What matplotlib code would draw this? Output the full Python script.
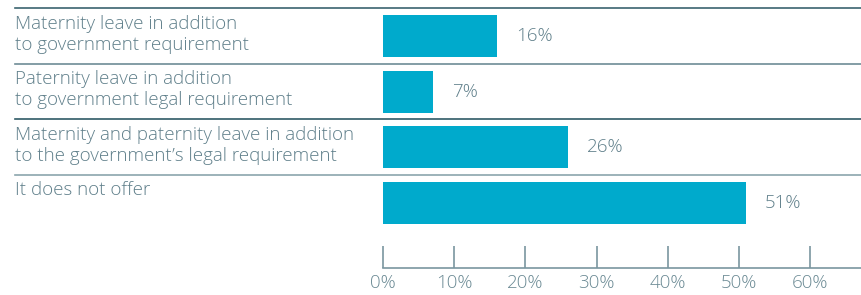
import matplotlib
matplotlib.use("Agg")
import matplotlib.pyplot as plt
import matplotlib.transforms as mtransforms

labels = ["Maternity leave in addition\nto government requirement",
          "Paternity leave in addition\nto government legal requirement",
          "Maternity and paternity leave in addition\nto the government\u2019s legal requirement",
          "It does not offer"]
values = [16, 7, 26, 51]
ticks = [0, 10, 20, 30, 40, 50, 60]
tick_labels = ["0%", "10%", "20%", "30%", "40%", "50%", "60%"]

bar_color = "#00aacc"
text_color = "#5f7f8a"
sep_colors = ["#3b6470", "#6e8c96", "#2f5a66", "#8ba5ad"]

plt.rcParams['font.family'] = ['Open Sans', 'DejaVu Sans']
plt.rcParams['font.weight'] = 'light'

W, H = 861, 295
fig = plt.figure(figsize=(W / 100, H / 100), dpi=100)
# axes from x=383px to right edge, y=0 to 268px (axis line)
ax = fig.add_axes([383 / W, (H - 268) / H, (W - 383) / W, 268 / H])

pos = list(range(len(values)))
ax.barh(pos, values, height=0.757, color=bar_color)
ax.set_xlim(0, (W - 383) / 71.2 * 10)
ax.set_ylim(4.18, -0.649)

for p, v in zip(pos, values):
    ax.annotate(f"{v}%", (v, p), xytext=(19, 0), textcoords="offset pixels",
                va="center", ha="left", fontsize=13.5, color=text_color)

# separator lines and category labels on the left
trans = mtransforms.blended_transform_factory(fig.transFigure, ax.transData)
for p, lab, c in zip(pos, labels, sep_colors):
    ax.plot([15 / W, 1], [p - 0.5, p - 0.5], transform=trans, color=c,
            lw=1.2, clip_on=False)
    ax.text(15 / W, p - 0.5 + 0.12, lab, transform=trans, va="top", ha="left",
            fontsize=13.5, color=text_color, linespacing=1.2)

for s in ["top", "right", "left"]:
    ax.spines[s].set_visible(False)
ax.spines["bottom"].set_color("#7a96a0")
ax.spines["bottom"].set_linewidth(1.2)
ax.set_yticks([])
ax.set_xticks(ticks)
ax.set_xticklabels(tick_labels)
ax.tick_params(axis="x", direction="in", length=16, width=1.2, color="#7a96a0",
               labelcolor="#6b8a94", labelsize=13.5, pad=4)

fig.savefig("out.png", dpi=100)
